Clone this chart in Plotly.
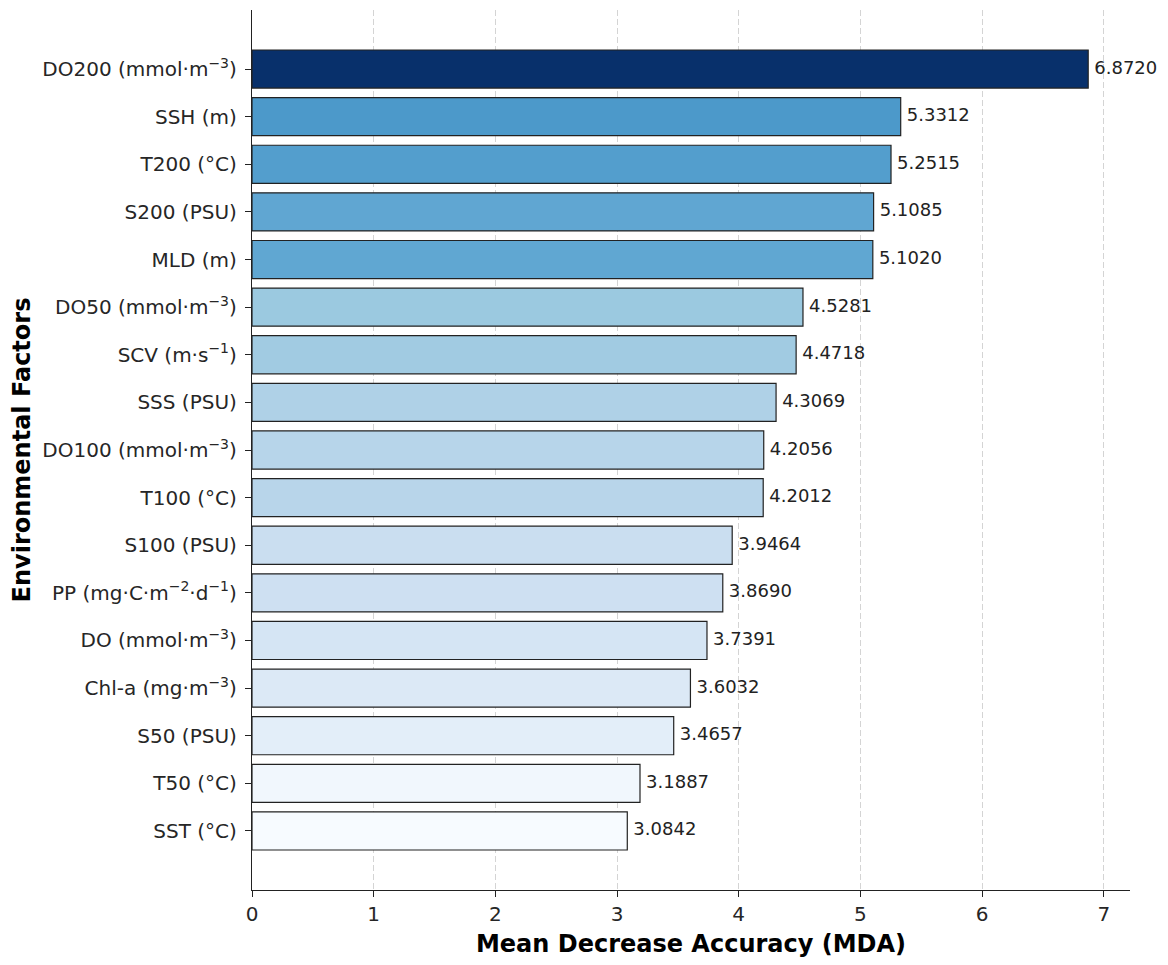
import plotly.graph_objects as go

# fatores ambientais (de baixo para cima) e valores de MDA
fatores = ['SST (°C)', 'T50 (°C)', 'S50 (PSU)', 'Chl-a (mg·m<sup>−3</sup>)',
           'DO (mmol·m<sup>−3</sup>)', 'PP (mg·C·m<sup>−2</sup>·d<sup>−1</sup>)',
           'S100 (PSU)', 'T100 (°C)', 'DO100 (mmol·m<sup>−3</sup>)', 'SSS (PSU)',
           'SCV (m·s<sup>−1</sup>)', 'DO50 (mmol·m<sup>−3</sup>)', 'MLD (m)',
           'S200 (PSU)', 'T200 (°C)', 'SSH (m)', 'DO200 (mmol·m<sup>−3</sup>)']
mda = [3.0842, 3.1887, 3.4657, 3.6032, 3.7391, 3.8690, 3.9464, 4.2012, 4.2056,
       4.3069, 4.4718, 4.5281, 5.1020, 5.1085, 5.2515, 5.3312, 6.8720]
x_ticks = [0, 1, 2, 3, 4, 5, 6, 7]

blues = ['#f7fbff', '#deebf7', '#c6dbef', '#9ecae1', '#6baed6',
         '#4292c6', '#2171b5', '#08519c', '#08306b']
escala = [[i / (len(blues) - 1), c] for i, c in enumerate(blues)]

fonte = 'DejaVu Sans'
posicoes = list(range(len(fatores)))

fig = go.Figure()
fig.add_trace(go.Bar(
    x=mda, y=posicoes, orientation='h', width=0.8,
    marker=dict(color=mda, colorscale=escala, cmin=min(mda), cmax=max(mda),
                line=dict(color='#222222', width=1.2)),
    hoverinfo='skip', showlegend=False,
))
fig.add_trace(go.Scatter(
    x=[v + 0.05 for v in mda], y=posicoes, mode='text',
    text=[f'{v:.4f}' for v in mda], textposition='middle right',
    textfont=dict(family=fonte, size=18, color='#222222'),
    cliponaxis=False, hoverinfo='skip', showlegend=False,
))

fig.update_layout(
    width=1168, height=965,
    margin=dict(l=244, r=46, t=2, b=83),
    plot_bgcolor='white', paper_bgcolor='white',
    font=dict(family=fonte, size=20, color='#262626'),
)
fig.update_xaxes(
    range=[0, max(mda) * 1.05], tickvals=x_ticks,
    showgrid=True, gridcolor='rgba(170,170,170,0.5)', griddash='6px,3px', gridwidth=1,
    showline=True, linecolor='#222222', linewidth=1.3,
    ticks='outside', ticklen=6, tickcolor='#222222', zeroline=False,
    layer='above traces',
    title=dict(text='<b>Mean Decrease Accuracy (MDA)</b>',
               font=dict(family=fonte, size=24, color='black'), standoff=10),
)
fig.update_yaxes(
    range=[-1.24, len(fatores) - 1 + 1.24], tickvals=posicoes, ticktext=fatores,
    showgrid=False, showline=True, linecolor='#222222', linewidth=1.3,
    ticks='outside', ticklen=6, tickcolor='#222222', zeroline=False,
    ticklabelstandoff=4,
    title=dict(text='<b>Environmental Factors</b>',
               font=dict(family=fonte, size=24, color='black'), standoff=8),
)

fig.write_html('out.html')
